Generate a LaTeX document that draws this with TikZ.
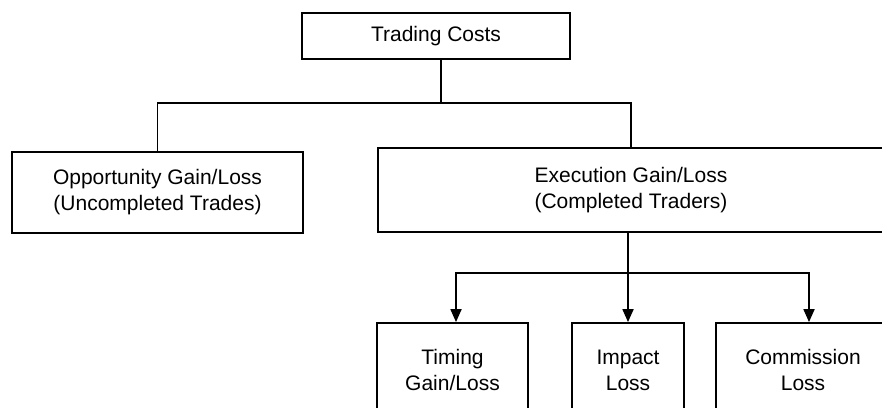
\documentclass[tikz,border=0pt]{standalone}
\usepackage{fontspec}
\setmainfont{Liberation Sans}
\usetikzlibrary{arrows.meta}
\begin{document}
\begin{tikzpicture}[x=1pt,y=-1pt,
  box/.style={draw, line width=1.8pt, rectangle, align=center, inner sep=0pt,
    font=\fontsize{21pt}{26pt}\selectfont},
  link/.style={line width=1.8pt},
  arr/.style={link, -{Triangle[length=13pt,width=11pt]}},
  arrs/.style={link, {Triangle[length=13pt,width=11pt]}-{Triangle[length=13pt,width=11pt]}}]
  \useasboundingbox (0,0) rectangle (882,407);
  \clip (0,0) rectangle (882,407);

  % boxes
  \node[box, minimum width=268pt, minimum height=46pt] (tc) at (436,36) {Trading Costs};
  \node[box, minimum width=291pt, minimum height=81pt] (opp) at (157.5,192.5)
    {Opportunity Gain/Loss\\(Uncompleted Trades)};
  \node[box, minimum width=506pt, minimum height=84pt] (exe) at (631,190)
    {Execution Gain/Loss\\(Completed Traders)};
  \node[box, minimum width=151pt, minimum height=94pt] (tim) at (452.5,370) {Timing\\Gain/Loss};
  \node[box, minimum width=112pt, minimum height=94pt] (imp) at (628,370) {Impact\\Loss};
  \node[box, minimum width=174pt, minimum height=94pt] (com) at (803,370) {Commission\\Loss};

  % junction points
  \coordinate (j1) at (441,103);
  \coordinate (j2) at (628,273);

  % upper tree
  \draw[link] (j1 |- tc.south) -- (j1);
  \draw[link] (opp.north) -- (opp.north |- j1) -- (j1 -| exe.north) -- (exe.north);

  % lower tree
  \draw[arr] (exe.south -| imp.north) -- (imp.north);
  \draw[arrs] ([xshift=3.5pt]tim.north) -- ([xshift=3.5pt]tim.north |- j2)
    -- ([xshift=6pt]com.north |- j2) -- ([xshift=6pt]com.north);
\end{tikzpicture}
\end{document}
